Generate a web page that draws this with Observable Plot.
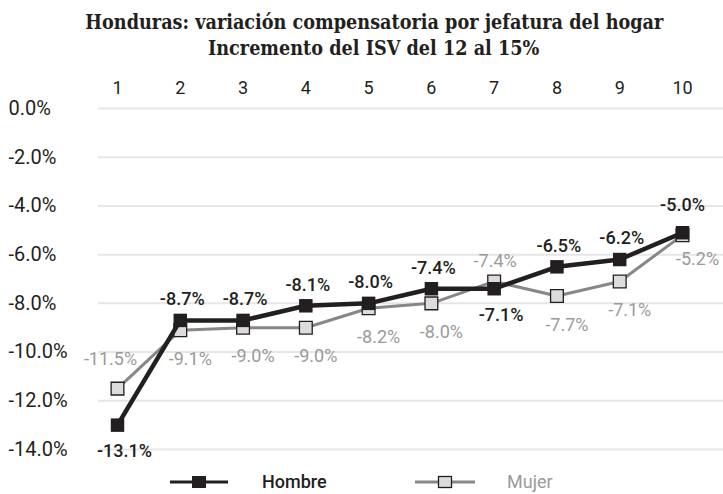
<!DOCTYPE html>
<html>
<head>
<meta charset="utf-8">
<script src="https://cdn.jsdelivr.net/npm/d3@7"></script>
<script src="https://cdn.jsdelivr.net/npm/@observablehq/plot@0.6"></script>
<style>
  html, body { margin: 0; padding: 0; background: #fff; }
  #page { position: relative; width: 723px; height: 494px; overflow: hidden; font-family: Roboto, sans-serif; }
  #title { position: absolute; left: 0; top: 9px; width: 723px; text-align: center; }
  #title div { font-family: "DejaVu Serif", serif; font-weight: bold; font-size: 20px; line-height: 26px; color: #231f20; white-space: nowrap; display: inline-block; transform-origin: center; }
  #title .row { display: block; position: relative; left: 12.5px; height: 26px; }
  #chart { position: absolute; left: 0; top: 60px; }
  .leg { position: absolute; font-size: 18px; line-height: 20px; }
</style>
</head>
<body>
<div id="page">
  <div id="title">
    <span class="row"><div id="t1">Honduras: variación compensatoria por jefatura del hogar</div></span>
    <span class="row"><div id="t2">Incremento del ISV del 12 al 15%</div></span>
  </div>
  <div id="chart"></div>
  <svg id="legendIcons" width="723" height="494" style="position:absolute;left:0;top:0;pointer-events:none">
    <line x1="170" x2="228" y1="482" y2="482" stroke="#231f20" stroke-width="3"/>
    <rect x="192" y="476" width="14" height="12" fill="#231f20"/>
    <line x1="415" x2="475" y1="482" y2="482" stroke="#878787" stroke-width="3"/>
    <rect x="438.5" y="476.5" width="13" height="11" fill="#dcdcdc" stroke="#231f20" stroke-width="1.3"/>
  </svg>
  <div class="leg" style="left:262px; top:472px; color:#231f20; font-weight:500;">Hombre</div>
  <div class="leg" style="left:507px; top:472px; color:#9a9a9a;">Mujer</div>
</div>
<script>
const deciles = [1, 2, 3, 4, 5, 6, 7, 8, 9, 10];
const hombre = [-13.0, -8.7, -8.7, -8.1, -8.0, -7.4, -7.4, -6.5, -6.2, -5.1];
const mujer  = [-11.5, -9.1, -9.0, -9.0, -8.2, -8.0, -7.1, -7.7, -7.1, -5.2];
const hombreLabels = ["-13.1%", "-8.7%", "-8.7%", "-8.1%", "-8.0%", "-7.4%", "-7.1%", "-6.5%", "-6.2%", "-5.0%"];
const mujerLabels  = ["-11.5%", "-9.1%", "-9.0%", "-9.0%", "-8.2%", "-8.0%", "-7.4%", "-7.7%", "-7.1%", "-5.2%"];
const yTicks = [0, -2, -4, -6, -8, -10, -12, -14];
const hombrePlace = ["below", "above", "above", "above", "above", "above", "below", "above", "above", "top"];
const mujerPlace  = ["aboveLeft", "below", "below", "below", "below", "below", "above", "below", "below", "right"];

const hombreOffsets = { above: [2, -21], below: [7, 26], top: [0, -27] };
const mujerOffsets = { below: [10, 29], above: [1, -20], aboveLeft: [-7, -29], right: [15, 24] };

const rows = deciles.map((d, i) => ({
  d, h: hombre[i], m: mujer[i],
  hl: hombreLabels[i], ml: mujerLabels[i],
  hp: hombrePlace[i], mp: mujerPlace[i]
}));

const labelMarks = [];
for (const [k, [dx, dy]] of Object.entries(mujerOffsets)) {
  labelMarks.push(Plot.text(rows.filter(r => r.mp === k), {
    x: "d", y: "m", text: "ml", dx, dy, fontSize: 18, fill: "#9a9a9a"
  }));
}
for (const [k, [dx, dy]] of Object.entries(hombreOffsets)) {
  labelMarks.push(Plot.text(rows.filter(r => r.hp === k), {
    x: "d", y: "h", text: "hl", dx, dy, fontSize: 18, fontWeight: 500, fill: "#231f20"
  }));
}

const chart = Plot.plot({
  width: 723, height: 408,
  marginTop: 48, marginBottom: 19, marginLeft: 98, marginRight: 0,
  x: { domain: [1, 10], insetLeft: 19, insetRight: 41, label: null },
  y: { domain: [-14, 0], label: null },
  style: { fontFamily: "Roboto, sans-serif", background: "transparent", overflow: "visible", color: "#231f20" },
  marks: [
    Plot.ruleY(yTicks, { stroke: "#e6e6e6", strokeWidth: 2 }),
    Plot.axisY(yTicks, { tickSize: 0, tickPadding: 0, textAnchor: "start", dx: -90, fontSize: 20, fill: "#231f20", label: null, tickFormat: d => d.toFixed(1) + "%" }),
    Plot.axisX(deciles, { anchor: "top", tickSize: 0, tickPadding: 15, fontSize: 18, fill: "#231f20", label: null, tickFormat: d => String(d) }),
    Plot.line(rows, { x: "d", y: "m", stroke: "#878787", strokeWidth: 3 }),
    Plot.dot(rows, { x: "d", y: "m", symbol: "square", r: 7.2, fill: "#dcdcdc", stroke: "#231f20", strokeWidth: 1.3 }),
    Plot.line(rows, { x: "d", y: "h", stroke: "#231f20", strokeWidth: 4.5 }),
    Plot.dot(rows, { x: "d", y: "h", symbol: "square", r: 7.6, fill: "#231f20" }),
    ...labelMarks
  ]
});
document.getElementById("chart").appendChild(chart);

// fit title width to the reference's line width
const t1 = document.getElementById("t1"), t2 = document.getElementById("t2");
const w = t1.getBoundingClientRect().width;
const s = 578 / w;
t1.style.transform = `scaleX(${s})`;
t2.style.transform = `scaleX(${s})`;
</script>
</body>
</html>
